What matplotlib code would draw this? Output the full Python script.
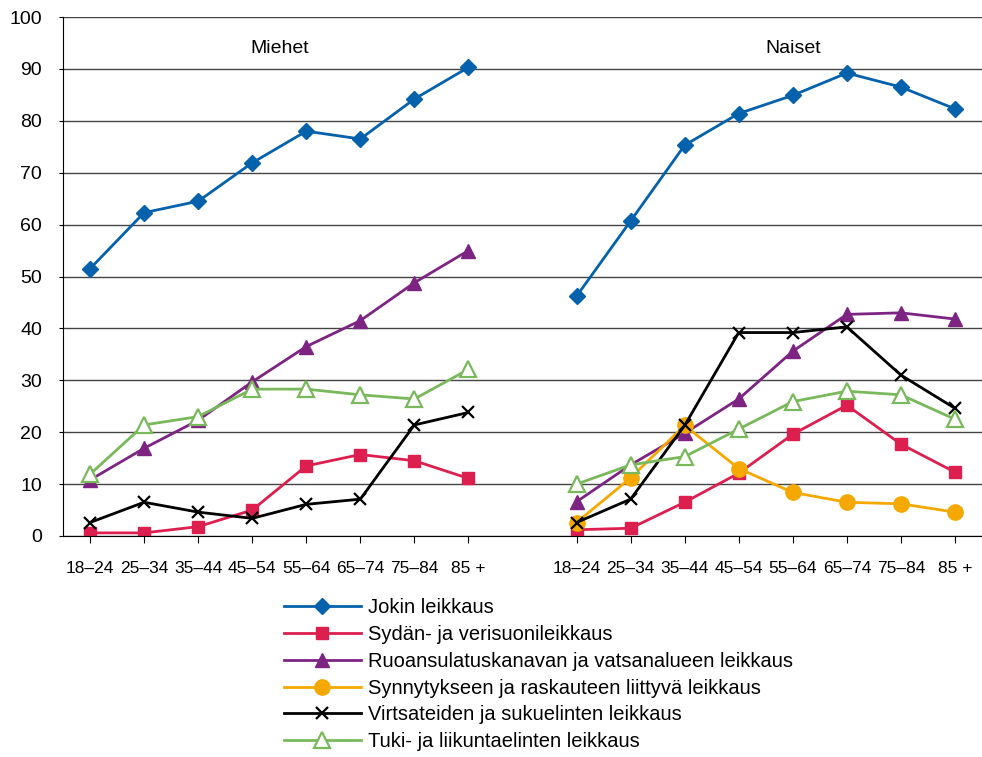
import matplotlib.pyplot as plt
import numpy as np

plt.rcParams['font.family'] = ['Liberation Sans', 'DejaVu Sans']

age_groups = ['18–24', '25–34', '35–44', '45–54', '55–64', '65–74', '75–84', '85 +']
groups = ['Miehet', 'Naiset']

series_names = ['Jokin leikkaus',
                'Sydän- ja verisuonileikkaus',
                'Ruoansulatuskanavan ja vatsanalueen leikkaus',
                'Synnytykseen ja raskauteen liittyvä leikkaus',
                'Virtsateiden ja sukuelinten leikkaus',
                'Tuki- ja liikuntaelinten leikkaus']

men = {
    'Jokin leikkaus': [51.5, 62.3, 64.5, 71.9, 78.0, 76.5, 84.2, 90.3],
    'Sydän- ja verisuonileikkaus': [0.6, 0.6, 1.8, 5.0, 13.5, 15.7, 14.5, 11.1],
    'Ruoansulatuskanavan ja vatsanalueen leikkaus': [10.8, 16.9, 22.3, 29.7, 36.5, 41.5, 48.8, 55.0],
    'Synnytykseen ja raskauteen liittyvä leikkaus': [np.nan] * 8,
    'Virtsateiden ja sukuelinten leikkaus': [2.6, 6.5, 4.6, 3.4, 6.1, 7.1, 21.4, 23.8],
    'Tuki- ja liikuntaelinten leikkaus': [11.9, 21.4, 23.0, 28.3, 28.3, 27.2, 26.4, 32.1],
}
women = {
    'Jokin leikkaus': [46.2, 60.7, 75.3, 81.4, 84.9, 89.2, 86.5, 82.3],
    'Sydän- ja verisuonileikkaus': [1.2, 1.5, 6.5, 12.1, 19.6, 25.2, 17.7, 12.3],
    'Ruoansulatuskanavan ja vatsanalueen leikkaus': [6.6, 13.7, 19.8, 26.4, 35.6, 42.7, 43.0, 41.8],
    'Synnytykseen ja raskauteen liittyvä leikkaus': [2.6, 11.2, 21.3, 13.0, 8.4, 6.5, 6.2, 4.6],
    'Virtsateiden ja sukuelinten leikkaus': [2.6, 7.1, 21.3, 39.2, 39.2, 40.3, 31.0, 24.6],
    'Tuki- ja liikuntaelinten leikkaus': [10.0, 13.7, 15.3, 20.6, 25.9, 27.9, 27.2, 22.5],
}

styles = {
    'Jokin leikkaus': dict(color='#0461AB', marker='D', ms=8, mfc='#0461AB'),
    'Sydän- ja verisuonileikkaus': dict(color='#DD1F4F', marker='s', ms=9, mfc='#DD1F4F'),
    'Ruoansulatuskanavan ja vatsanalueen leikkaus': dict(color='#7D2483', marker='^', ms=10, mfc='#7D2483'),
    'Synnytykseen ja raskauteen liittyvä leikkaus': dict(color='#F5A800', marker='o', ms=11, mfc='#F5A800'),
    'Virtsateiden ja sukuelinten leikkaus': dict(color='black', marker='x', ms=9, mew=1.6, mfc='black'),
    'Tuki- ja liikuntaelinten leikkaus': dict(color='#79B85B', marker='^', ms=11, mfc='white', mew=1.6),
}

n = len(age_groups)
x = np.arange(2 * n + 1)
labels = age_groups + [''] + age_groups

fig = plt.figure(figsize=(9.82, 7.57), dpi=100)
ax = fig.add_axes([63 / 982, 221 / 757, 919 / 982, 519 / 757])

for name in series_names:
    y = np.array(men[name] + [np.nan] + women[name], dtype=float)
    ax.plot(x, y, lw=2, label=name, **styles[name])

ax.set_xlim(-0.5, 2 * n + 0.5)
ax.set_ylim(0, 100)
ax.set_yticks(range(0, 101, 10))
ax.set_xticks([i for i in x if i != n])
ax.set_xticklabels([l for l in labels if l != ''])
ax.yaxis.grid(True, color='#444444', lw=1)
ax.set_axisbelow(True)
ax.spines['right'].set_visible(False)
ax.spines['top'].set_visible(False)
ax.tick_params(axis='y', length=3, pad=12, labelsize=14)
ax.tick_params(axis='x', length=5, pad=13, labelsize=12.5)

ax.text((n - 1) / 2, 94, groups[0], ha='center', va='center', fontsize=14)
ax.text(13, 94, groups[1], ha='center', va='center', fontsize=14)

fig.legend(loc='upper left', bbox_to_anchor=(284 / 982, 1 - 598 / 757),
           frameon=False, fontsize=14.5, handlelength=3.8, handletextpad=0.35,
           labelspacing=0.39, borderpad=0, borderaxespad=0)

fig.savefig('out.png', dpi=100)
